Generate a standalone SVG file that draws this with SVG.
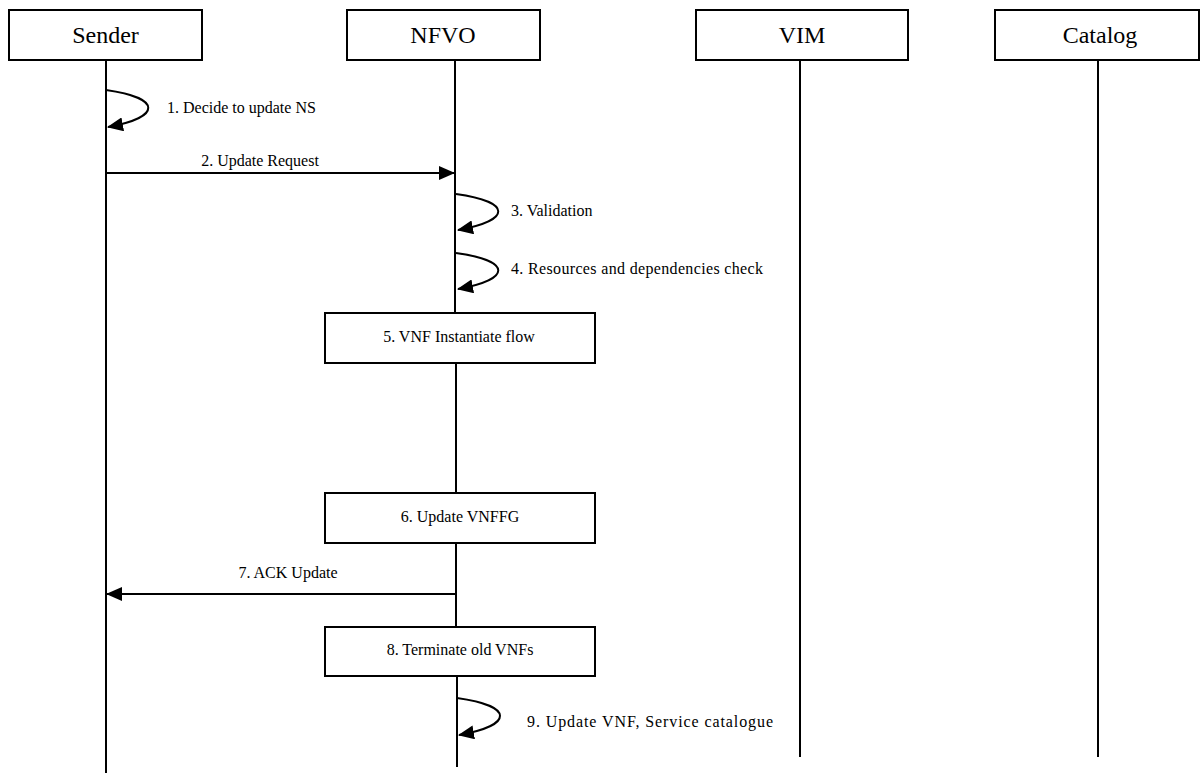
<svg xmlns="http://www.w3.org/2000/svg" width="1201" height="776" viewBox="0 0 1201 776">
<style>
  .box{fill:#fff;stroke:#000;stroke-width:2}
  .life{stroke:#000;stroke-width:2;fill:none}
  .msg{stroke:#000;stroke-width:2;fill:none;marker-end:url(#ah)}
  .hd{font-family:"Liberation Serif","Times New Roman",serif;font-size:24px;text-anchor:middle;fill:#000}
  .lb{font-family:"Liberation Serif","Times New Roman",serif;font-size:16px;fill:#000}
  .mid{text-anchor:middle}
</style>
<defs>
  <marker id="ah" viewBox="0 0 16 14" refX="15" refY="7" markerWidth="16" markerHeight="14" orient="auto" markerUnits="userSpaceOnUse">
    <path d="M0,0 L16,7 L0,14 z" fill="#000"/>
  </marker>
</defs>
<rect width="1201" height="776" fill="#fff"/>
<g id="lifelines">
  <line class="life" x1="106" y1="60" x2="106" y2="773"/>
  <line class="life" x1="455" y1="60" x2="455" y2="313"/>
  <line class="life" x1="456" y1="363" x2="456" y2="493"/>
  <line class="life" x1="456" y1="543" x2="456" y2="627"/>
  <line class="life" x1="457" y1="676" x2="457" y2="767"/>
  <line class="life" x1="800" y1="60" x2="800" y2="757"/>
  <line class="life" x1="1098" y1="60" x2="1098" y2="757"/>
</g>
<g id="sender">
  <rect class="box" x="9" y="10" width="193" height="50"/>
  <text class="hd" x="105.5" y="43">Sender</text>
</g>
<g id="nfvo">
  <rect class="box" x="347" y="10" width="193" height="50"/>
  <text class="hd" x="443" y="43">NFVO</text>
</g>
<g id="vim">
  <rect class="box" x="696" y="10" width="212" height="50"/>
  <text class="hd" x="802" y="43">VIM</text>
</g>
<g id="catalog">
  <rect class="box" x="995" y="10" width="204" height="50"/>
  <text class="hd" x="1100" y="43">Catalog</text>
</g>
<g id="step5">
  <rect class="box" x="325" y="313" width="270" height="50"/>
  <text class="lb mid" x="459" y="342">5. VNF Instantiate flow</text>
</g>
<g id="step6">
  <rect class="box" x="325" y="493" width="270" height="50"/>
  <text class="lb mid" x="460" y="522">6. Update VNFFG</text>
</g>
<g id="step8">
  <rect class="box" x="325" y="627" width="270" height="49"/>
  <text class="lb mid" x="460" y="655">8. Terminate old VNFs</text>
</g>
<g id="connectors">
  <path class="msg" d="M106,90 C162,98 162,117 108,127"/>
  <line class="msg" x1="107" y1="173" x2="454" y2="173"/>
  <path class="msg" d="M456,194 C512,202 512,220 458,230"/>
  <path class="msg" d="M456,253 C512,261 512,279 458,289"/>
  <line class="msg" x1="455" y1="594" x2="107" y2="594"/>
  <path class="msg" d="M457,698 C514,706 514,725 459,735"/>
</g>
<g id="labels">
  <text class="lb" x="167" y="113">1. Decide to update NS</text>
  <text class="lb mid" x="260" y="166">2. Update Request</text>
  <text class="lb" x="511" y="216">3. Validation</text>
  <text class="lb" x="511" y="274" textLength="252" lengthAdjust="spacing">4. Resources and dependencies check</text>
  <text class="lb mid" x="288" y="578">7. ACK Update</text>
  <text class="lb" x="527" y="727" textLength="246" lengthAdjust="spacing">9. Update VNF, Service catalogue</text>
</g>
</svg>
